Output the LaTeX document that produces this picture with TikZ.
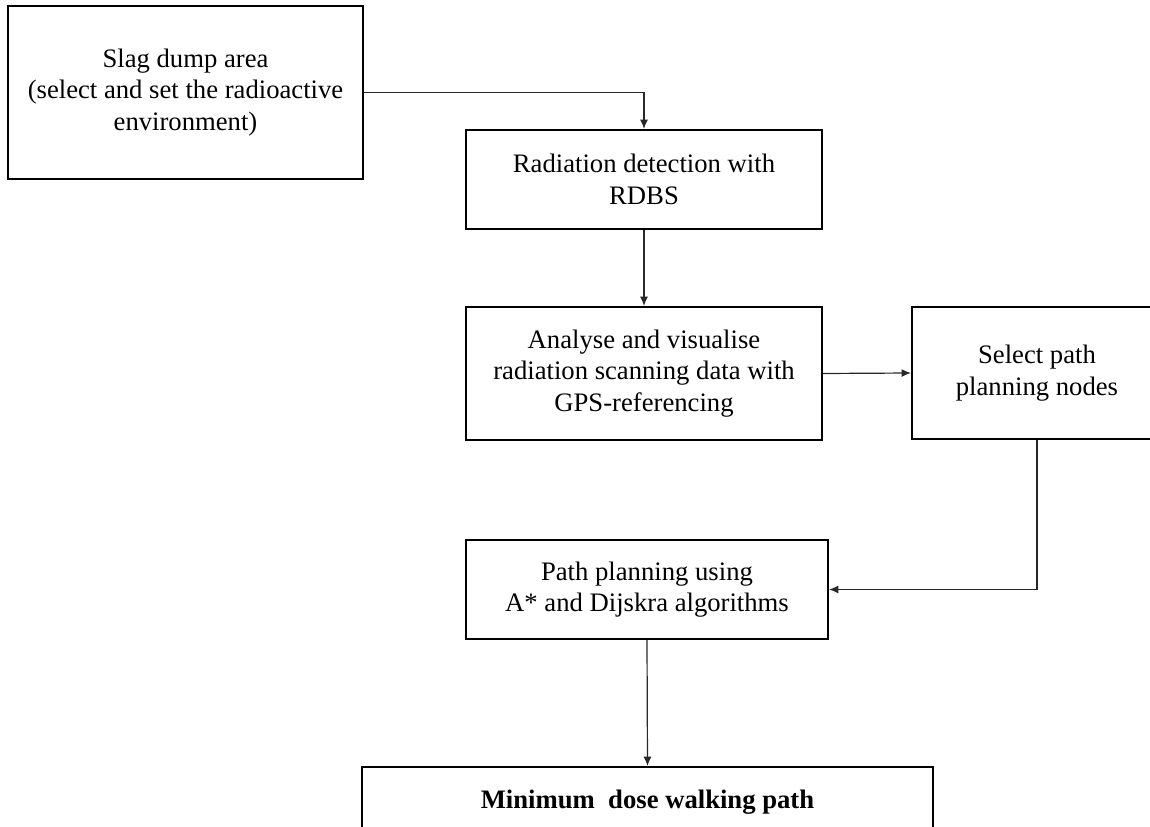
\documentclass[tikz,border=0pt]{standalone}
\usepackage{fontspec}
\setmainfont{Liberation Serif}
\usetikzlibrary{arrows.meta}

\tikzset{every picture/.style={line width=0.75pt}}
\tikzset{
  flowbox/.style={draw, line width=1.6pt, rectangle, inner sep=0pt, align=center,
    font=\fontsize{20}{23.5}\selectfont},
  conn/.style={draw={rgb, 255:red, 40; green, 40; blue, 40 }, line width=0.9pt,
    -{Latex[length=7pt,width=6pt]}},
  connplain/.style={draw={rgb, 255:red, 40; green, 40; blue, 40 }, line width=0.9pt}
}

\begin{document}
\begin{tikzpicture}[x=0.75pt,y=0.75pt,yscale=-1,xscale=1]
%set diagram size to 1150 x 827
\clip (0,0) rectangle (1150,827);

%Shape: Rectangle [slag]
\node [flowbox, minimum width=266.25pt, minimum height=129.75pt] (slag) at (185.5,92.5)
  {Slag dump area\\(select and set the radioactive\\environment)};
%Shape: Rectangle [detect]
\node [flowbox, minimum width=267pt, minimum height=74.25pt] (detect) at (644,179.5)
  {Radiation detection with\\RDBS};
%Shape: Rectangle [analyse]
\node [flowbox, minimum width=267pt, minimum height=99.75pt] (analyse) at (644,373.5)
  {Analyse and visualise\\radiation scanning data with\\GPS-referencing};
%Shape: Rectangle [select]
\node [flowbox, minimum width=187.5pt, minimum height=99pt] (select) at (1037,373)
  {Select path\\planning nodes};
%Shape: Rectangle [plan]
\node [flowbox, minimum width=271.5pt, minimum height=74.25pt] (plan) at (647,589.5)
  {Path planning using\\A* and Dijskra algorithms};
%Shape: Rectangle [dose]
\node [flowbox, anchor=north, minimum width=428.25pt, inner ysep=17pt,
  font=\fontsize{20}{23.5}\selectfont\bfseries] (dose) at (647.5,766)
  {Minimum\ \ dose walking path};

%Straight Lines
\draw [conn] (slag.east) -| (detect.north) ;
%Straight Lines
\draw [conn] (detect.south) -- (analyse.north) ;
%Straight Lines
\draw [conn] (analyse.east) -- (select.west) ;
%Straight Lines
\draw [conn] (select.south) |- (plan.east) ;
%Straight Lines
\draw [conn] (plan.south) -- (dose.north) ;

\end{tikzpicture}
\end{document}
